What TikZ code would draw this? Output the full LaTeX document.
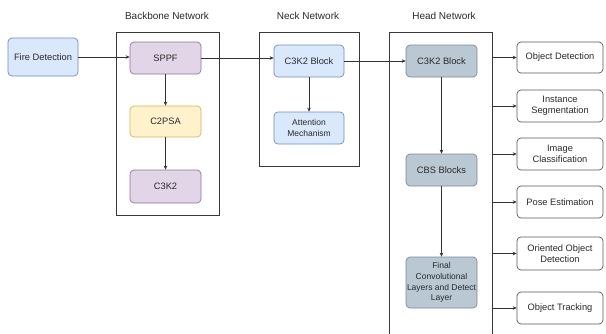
\documentclass[tikz,border=0pt]{standalone}
\usepackage{fontspec}
\setmainfont{Liberation Sans}
\usetikzlibrary{arrows.meta}
\definecolor{blueF}{HTML}{DAE8FC}\definecolor{blueD}{HTML}{6C8EBF}
\definecolor{purF}{HTML}{E1D5E7}\definecolor{purD}{HTML}{9673A6}
\definecolor{yelF}{HTML}{FFF2CC}\definecolor{yelD}{HTML}{D6B656}
\definecolor{grayF}{HTML}{BAC8D3}\definecolor{grayD}{HTML}{7A8C9A}
\definecolor{txt}{HTML}{2A2A2A}
\tikzset{
  blk/.style={draw, rounded corners=4pt, line width=0.7pt, align=center,
    text=txt, font=\fontsize{9.3}{10.7}\selectfont, inner sep=1pt},
  bluebox/.style={blk, fill=blueF, draw=blueD},
  purbox/.style={blk, fill=purF, draw=purD},
  yelbox/.style={blk, fill=yelF, draw=yelD},
  graybox/.style={blk, fill=grayF, draw=grayD},
  outbox/.style={blk, fill=white, draw=black!65, minimum width=86pt},
  frame/.style={draw=black!78, line width=1pt},
  heading/.style={text=txt, font=\fontsize{10}{12}\selectfont},
  conn/.style={draw=black!80, line width=0.6pt, -{Stealth[length=4pt,width=3.5pt]}},
  small/.style={font=\fontsize{8.5}{10.7}\selectfont}
}
\begin{document}
\begin{tikzpicture}[x=1pt, y=-1pt]
\useasboundingbox (0,0) rectangle (606,333);
\fill[white] (0,0) rectangle (606,333);

% stage frames
\draw[frame] (116,32) rectangle (219,215);
\draw[frame] (259,32) rectangle (359,166);
\draw[frame] (389,345) -- (389,32) -- (492,32) -- (492,345);
\coordinate (headE) at (492,32);

% stage headings
\node[heading] (hb) at (167,16) {Backbone Network};
\node[heading] (hn) at (308,16) {Neck Network};
\node[heading] (hh) at (444,16) {Head Network};

% input
\node[bluebox, minimum width=70pt, minimum height=38pt] (fire) at (43,57) {Fire Detection};

% backbone
\node[purbox, minimum width=71pt, minimum height=32pt] (sppf) at (165.5,58) {SPPF};
\node[yelbox, minimum width=71pt, minimum height=31pt] (c2psa) at (165.5,121.5) {C2PSA};
\node[purbox, minimum width=71pt, minimum height=33pt] (c3k2) at (165.5,186.5) {C3K2};

% neck
\node[bluebox, minimum width=70pt, minimum height=32pt] (neckc) at (309,61) {C3K2 Block};
\node[bluebox, small, minimum width=70pt, minimum height=32pt] (attn) at (309,128) {Attention\\Mechanism};

% head
\node[graybox, minimum width=71pt, minimum height=32pt] (headc) at (441.5,61) {C3K2 Block};
\node[graybox, minimum width=71pt, minimum height=32pt] (cbs) at (441.5,170) {CBS Blocks};
\node[graybox, small, minimum width=71pt, minimum height=51pt] (final) at (441.5,282.5) {Final\\Convolutional\\Layers and Detect\\Layer};

% outputs
\node[outbox, minimum height=31pt] (od) at (560,57.5) {Object Detection};
\node[outbox, minimum height=32pt] (is) at (560,106) {Instance\\Segmentation};
\node[outbox, minimum height=32pt] (ic) at (560,154) {Image\\Classification};
\node[outbox, minimum height=32pt] (pe) at (560,202) {Pose Estimation};
\node[outbox, minimum height=33pt] (ood) at (560,253.5) {Oriented Object\\Detection};
\node[outbox, minimum height=32pt] (ot) at (560,308) {Object Tracking};

% connectors
\draw[conn] (fire.east) -- (fire.east -| sppf.west);
\draw[conn] (sppf.east) -- (sppf.east -| neckc.west);
\draw[conn] (sppf.south) -- (c2psa.north);
\draw[conn] (c2psa.south) -- (c3k2.north);
\draw[conn] (neckc.south) -- (attn.north);
\draw[conn] (neckc.east) -- (headc.west);
\draw[conn] (headc.south) -- (cbs.north);
\draw[conn] (cbs.south) -- (final.north);
\foreach \o in {od,is,ic,pe,ood,ot}
  \draw[conn] (headE |- \o.west) -- (\o.west);
\end{tikzpicture}
\end{document}
